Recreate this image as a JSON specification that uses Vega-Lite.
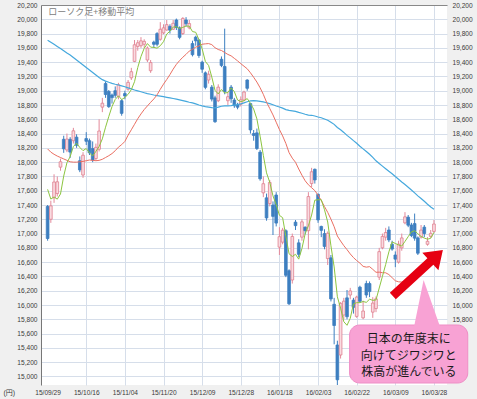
{
  "$schema": "https://vega.github.io/schema/vega-lite/v6.json",
  "width": 406,
  "height": 380,
  "autosize": {"type": "none"},
  "padding": {"left": 41, "top": 5, "right": 30, "bottom": 14},
  "background": "#f0f0f0",
  "config": {
    "view": {"fill": "#ffffff", "stroke": null},
    "axis": {"labelFont": "Liberation Sans", "labelFontSize": 6.6, "labelColor": "#3a3a3a", "ticks": false, "domain": false, "gridColor": "#d6deea", "gridWidth": 1}
  },
  "data": {"values": [
    {"d":"15/09/29","i":0,"o":17380,"h":17400,"l":16900,"c":16931,"m5":17619,"m25":18185,"m75":19708},
    {"d":"15/09/30","i":1,"o":17200,"h":17460,"l":17150,"c":17388,"m5":17483,"m25":18140,"m75":19680},
    {"d":"15/10/01","i":2,"o":17500,"h":17830,"l":17430,"c":17722,"m5":17513,"m25":18110,"m75":19650},
    {"d":"15/10/02","i":3,"o":17560,"h":17800,"l":17520,"c":17725,"m5":17482,"m25":18085,"m75":19620},
    {"d":"15/10/05","i":4,"o":17930,"h":18050,"l":17880,"c":18005,"m5":17554,"m25":18065,"m75":19590},
    {"d":"15/10/06","i":5,"o":18320,"h":18370,"l":18130,"c":18186,"m5":17805,"m25":18045,"m75":19560},
    {"d":"15/10/07","i":6,"o":18170,"h":18400,"l":18140,"c":18323,"m5":17992,"m25":18025,"m75":19528},
    {"d":"15/10/08","i":7,"o":18320,"h":18350,"l":18060,"c":18141,"m5":18076,"m25":18005,"m75":19500},
    {"d":"15/10/09","i":8,"o":18300,"h":18480,"l":18260,"c":18439,"m5":18219,"m25":18000,"m75":19465},
    {"d":"15/10/13","i":9,"o":18350,"h":18390,"l":18200,"c":18235,"m5":18265,"m25":18000,"m75":19430},
    {"d":"15/10/14","i":10,"o":18020,"h":18080,"l":17860,"c":17891,"m5":18206,"m25":18005,"m75":19395},
    {"d":"15/10/15","i":11,"o":17820,"h":18140,"l":17780,"c":18097,"m5":18161,"m25":18010,"m75":19360},
    {"d":"15/10/16","i":12,"o":18330,"h":18420,"l":18240,"c":18292,"m5":18191,"m25":18020,"m75":19325},
    {"d":"15/10/19","i":13,"o":18300,"h":18330,"l":18100,"c":18131,"m5":18129,"m25":18030,"m75":19290},
    {"d":"15/10/20","i":14,"o":18190,"h":18290,"l":18000,"c":18030,"m5":18088,"m25":18025,"m75":19255},
    {"d":"15/10/21","i":15,"o":18050,"h":18260,"l":18020,"c":18207,"m5":18151,"m25":18020,"m75":19220},
    {"d":"15/10/22","i":16,"o":18180,"h":18600,"l":18150,"c":18436,"m5":18219,"m25":18025,"m75":19185},
    {"d":"15/10/23","i":17,"o":18770,"h":18900,"l":18700,"c":18825,"m5":18326,"m25":18040,"m75":19155},
    {"d":"15/10/26","i":18,"o":19100,"h":19130,"l":18900,"c":18947,"m5":18489,"m25":18065,"m75":19135},
    {"d":"15/10/27","i":19,"o":18990,"h":19010,"l":18760,"c":18777,"m5":18638,"m25":18090,"m75":19118},
    {"d":"15/10/28","i":20,"o":18940,"h":18960,"l":18820,"c":18903,"m5":18778,"m25":18120,"m75":19103},
    {"d":"15/10/29","i":21,"o":19000,"h":19060,"l":18900,"c":18936,"m5":18878,"m25":18160,"m75":19090},
    {"d":"15/10/30","i":22,"o":18920,"h":19110,"l":18880,"c":19083,"m5":18929,"m25":18210,"m75":19080},
    {"d":"15/11/02","i":23,"o":18860,"h":18880,"l":18650,"c":18683,"m5":18876,"m25":18245,"m75":19068},
    {"d":"15/11/04","i":24,"o":18960,"h":19000,"l":18880,"c":18927,"m5":18906,"m25":18290,"m75":19055},
    {"d":"15/11/05","i":25,"o":19020,"h":19150,"l":19000,"c":19117,"m5":18949,"m25":18378,"m75":19040},
    {"d":"15/11/06","i":26,"o":19180,"h":19320,"l":19150,"c":19266,"m5":19015,"m25":18453,"m75":19025},
    {"d":"15/11/09","i":27,"o":19410,"h":19710,"l":19400,"c":19643,"m5":19127,"m25":18530,"m75":19010},
    {"d":"15/11/10","i":28,"o":19620,"h":19710,"l":19560,"c":19671,"m5":19325,"m25":18608,"m75":18998},
    {"d":"15/11/11","i":29,"o":19630,"h":19750,"l":19600,"c":19698,"m5":19479,"m25":18675,"m75":18985},
    {"d":"15/11/12","i":30,"o":19650,"h":19720,"l":19600,"c":19691,"m5":19594,"m25":18736,"m75":18972},
    {"d":"15/11/13","i":31,"o":19430,"h":19620,"l":19400,"c":19597,"m5":19660,"m25":18787,"m75":18960},
    {"d":"15/11/16","i":32,"o":19280,"h":19430,"l":19250,"c":19394,"m5":19610,"m25":18837,"m75":18950},
    {"d":"15/11/17","i":33,"o":19680,"h":19700,"l":19600,"c":19650,"m5":19606,"m25":18885,"m75":18940},
    {"d":"15/11/18","i":34,"o":19800,"h":19820,"l":19620,"c":19650,"m5":19596,"m25":18942,"m75":18932},
    {"d":"15/11/19","i":35,"o":19720,"h":19960,"l":19700,"c":19860,"m5":19630,"m25":19020,"m75":18924},
    {"d":"15/11/20","i":36,"o":19810,"h":19930,"l":19790,"c":19880,"m5":19687,"m25":19092,"m75":18916},
    {"d":"15/11/24","i":37,"o":19850,"h":19990,"l":19840,"c":19925,"m5":19793,"m25":19157,"m75":18908},
    {"d":"15/11/25","i":38,"o":19900,"h":19930,"l":19800,"c":19848,"m5":19833,"m25":19226,"m75":18900},
    {"d":"15/11/26","i":39,"o":19860,"h":19990,"l":19850,"c":19944,"m5":19891,"m25":19302,"m75":18891},
    {"d":"15/11/27","i":40,"o":19990,"h":20010,"l":19850,"c":19884,"m5":19896,"m25":19369,"m75":18882},
    {"d":"15/11/30","i":41,"o":19880,"h":19900,"l":19720,"c":19747,"m5":19870,"m25":19422,"m75":18872},
    {"d":"15/12/01","i":42,"o":19800,"h":20030,"l":19780,"c":20012,"m5":19887,"m25":19469,"m75":18862},
    {"d":"15/12/02","i":43,"o":19990,"h":20030,"l":19900,"c":19938,"m5":19905,"m25":19509,"m75":18850},
    {"d":"15/12/03","i":44,"o":19880,"h":19990,"l":19860,"c":19940,"m5":19904,"m25":19555,"m75":18838},
    {"d":"15/12/04","i":45,"o":19660,"h":19700,"l":19480,"c":19504,"m5":19828,"m25":19580,"m75":18830},
    {"d":"15/12/07","i":46,"o":19750,"h":19770,"l":19630,"c":19698,"m5":19818,"m25":19610,"m75":18815},
    {"d":"15/12/08","i":47,"o":19710,"h":19720,"l":19460,"c":19493,"m5":19715,"m25":19626,"m75":18800},
    {"d":"15/12/09","i":48,"o":19400,"h":19420,"l":19250,"c":19301,"m5":19587,"m25":19651,"m75":18788},
    {"d":"15/12/10","i":49,"o":19250,"h":19270,"l":19020,"c":19047,"m5":19409,"m25":19656,"m75":18778},
    {"d":"15/12/11","i":50,"o":19150,"h":19280,"l":19100,"c":19230,"m5":19354,"m25":19660,"m75":18770},
    {"d":"15/12/14","i":51,"o":19050,"h":19080,"l":18850,"c":18883,"m5":19191,"m25":19645,"m75":18763},
    {"d":"15/12/15","i":52,"o":18900,"h":18930,"l":18550,"c":18566,"m5":19005,"m25":19602,"m75":18760},
    {"d":"15/12/16","i":53,"o":18860,"h":19090,"l":18840,"c":19050,"m5":18955,"m25":19577,"m75":18770},
    {"d":"15/12/17","i":54,"o":19440,"h":19480,"l":19330,"c":19354,"m5":19017,"m25":19563,"m75":18783},
    {"d":"15/12/18","i":55,"o":19340,"h":19869,"l":18950,"c":18987,"m5":18968,"m25":19535,"m75":18789},
    {"d":"15/12/21","i":56,"o":18860,"h":18980,"l":18800,"c":18916,"m5":18975,"m25":19508,"m75":18788},
    {"d":"15/12/22","i":57,"o":19050,"h":19080,"l":18830,"c":18887,"m5":19039,"m25":19488,"m75":18790},
    {"d":"15/12/24","i":58,"o":18870,"h":18900,"l":18760,"c":18790,"m5":18987,"m25":19453,"m75":18797},
    {"d":"15/12/25","i":59,"o":18800,"h":18830,"l":18740,"c":18769,"m5":18870,"m25":19418,"m75":18805},
    {"d":"15/12/28","i":60,"o":18810,"h":18920,"l":18780,"c":18873,"m5":18847,"m25":19379,"m75":18815},
    {"d":"15/12/29","i":61,"o":18870,"h":19000,"l":18850,"c":18982,"m5":18860,"m25":19343,"m75":18830},
    {"d":"15/12/30","i":62,"o":19150,"h":19160,"l":19000,"c":19034,"m5":18890,"m25":19307,"m75":18845},
    {"d":"16/01/04","i":63,"o":18820,"h":18830,"l":18400,"c":18451,"m5":18822,"m25":19251,"m75":18858},
    {"d":"16/01/05","i":64,"o":18400,"h":18450,"l":18300,"c":18374,"m5":18743,"m25":19188,"m75":18860},
    {"d":"16/01/06","i":65,"o":18410,"h":18470,"l":18170,"c":18191,"m5":18606,"m25":19121,"m75":18857},
    {"d":"16/01/07","i":66,"o":18140,"h":18170,"l":17740,"c":17767,"m5":18363,"m25":19041,"m75":18850},
    {"d":"16/01/08","i":67,"o":17570,"h":17800,"l":17510,"c":17698,"m5":18096,"m25":18949,"m75":18843},
    {"d":"16/01/12","i":68,"o":17500,"h":17560,"l":17180,"c":17219,"m5":17850,"m25":18840,"m75":18832},
    {"d":"16/01/13","i":69,"o":17420,"h":17750,"l":17380,"c":17716,"m5":17718,"m25":18751,"m75":18820},
    {"d":"16/01/14","i":70,"o":17400,"h":17450,"l":16980,"c":17241,"m5":17528,"m25":18661,"m75":18803},
    {"d":"16/01/15","i":71,"o":17540,"h":17580,"l":17100,"c":17147,"m5":17404,"m25":18559,"m75":18786},
    {"d":"16/01/18","i":72,"o":16810,"h":17090,"l":16700,"c":16956,"m5":17256,"m25":18457,"m75":18772},
    {"d":"16/01/19","i":73,"o":16880,"h":17080,"l":16850,"c":17048,"m5":17222,"m25":18367,"m75":18756},
    {"d":"16/01/20","i":74,"o":17040,"h":17060,"l":16390,"c":16416,"m5":16962,"m25":18262,"m75":18736},
    {"d":"16/01/21","i":75,"o":16480,"h":16500,"l":16000,"c":16017,"m5":16717,"m25":18133,"m75":18724},
    {"d":"16/01/22","i":76,"o":16350,"h":17000,"l":16300,"c":16959,"m5":16679,"m25":18056,"m75":18718},
    {"d":"16/01/25","i":77,"o":17160,"h":17190,"l":17050,"c":17111,"m5":16710,"m25":17998,"m75":18710},
    {"d":"16/01/26","i":78,"o":16870,"h":16920,"l":16670,"c":16709,"m5":16642,"m25":17904,"m75":18696},
    {"d":"16/01/27","i":79,"o":16950,"h":17200,"l":16900,"c":17164,"m5":16792,"m25":17817,"m75":18685},
    {"d":"16/01/28","i":80,"o":17090,"h":17100,"l":16990,"c":17041,"m5":16997,"m25":17739,"m75":18670},
    {"d":"16/01/29","i":81,"o":17040,"h":17580,"l":16780,"c":17518,"m5":17109,"m25":17683,"m75":18659},
    {"d":"16/02/01","i":82,"o":17700,"h":17920,"l":17650,"c":17865,"m5":17259,"m25":17642,"m75":18656},
    {"d":"16/02/02","i":83,"o":17900,"h":17910,"l":17700,"c":17751,"m5":17468,"m25":17601,"m75":18646},
    {"d":"16/02/03","i":84,"o":17550,"h":17560,"l":17150,"c":17191,"m5":17473,"m25":17538,"m75":18632},
    {"d":"16/02/04","i":85,"o":17100,"h":17110,"l":16950,"c":17045,"m5":17474,"m25":17464,"m75":18621},
    {"d":"16/02/05","i":86,"o":17000,"h":17060,"l":16780,"c":16820,"m5":17334,"m25":17378,"m75":18604},
    {"d":"16/02/08","i":87,"o":16650,"h":17030,"l":16560,"c":17004,"m5":17162,"m25":17297,"m75":18587},
    {"d":"16/02/09","i":88,"o":16660,"h":16700,"l":16050,"c":16085,"m5":16829,"m25":17202,"m75":18560},
    {"d":"16/02/10","i":89,"o":16010,"h":16100,"l":15450,"c":15713,"m5":16533,"m25":17096,"m75":18529},
    {"d":"16/02/12","i":90,"o":15440,"h":15500,"l":14880,"c":14953,"m5":16115,"m25":16966,"m75":18485},
    {"d":"16/02/15","i":91,"o":15300,"h":16040,"l":15250,"c":16023,"m5":15956,"m25":16896,"m75":18453},
    {"d":"16/02/16","i":92,"o":15860,"h":16100,"l":15800,"c":16054,"m5":15766,"m25":16831,"m75":18416},
    {"d":"16/02/17","i":93,"o":16100,"h":16210,"l":15800,"c":15836,"m5":15716,"m25":16775,"m75":18375},
    {"d":"16/02/18","i":94,"o":16140,"h":16240,"l":16080,"c":16197,"m5":15813,"m25":16715,"m75":18340},
    {"d":"16/02/19","i":95,"o":16068,"h":16100,"l":15880,"c":15967,"m5":16015,"m25":16664,"m75":18301},
    {"d":"16/02/22","i":96,"o":15840,"h":16130,"l":15820,"c":16111,"m5":16033,"m25":16622,"m75":18264},
    {"d":"16/02/23","i":97,"o":16250,"h":16270,"l":16030,"c":16052,"m5":16033,"m25":16586,"m75":18223},
    {"d":"16/02/24","i":98,"o":15820,"h":16060,"l":15800,"c":15916,"m5":16049,"m25":16541,"m75":18186},
    {"d":"16/02/25","i":99,"o":16300,"h":16340,"l":16100,"c":16140,"m5":16037,"m25":16530,"m75":18149},
    {"d":"16/02/26","i":100,"o":16300,"h":16330,"l":16110,"c":16188,"m5":16081,"m25":16537,"m75":18110},
    {"d":"16/02/29","i":101,"o":15900,"h":16110,"l":15820,"c":16027,"m5":16065,"m25":16499,"m75":18067},
    {"d":"16/03/01","i":102,"o":15950,"h":16120,"l":15900,"c":16086,"m5":16071,"m25":16458,"m75":18019},
    {"d":"16/03/02","i":103,"o":16390,"h":16800,"l":16350,"c":16747,"m5":16238,"m25":16460,"m75":17980},
    {"d":"16/03/03","i":104,"o":16800,"h":17000,"l":16780,"c":16960,"m5":16402,"m25":16452,"m75":17944},
    {"d":"16/03/04","i":105,"o":16950,"h":17080,"l":16900,"c":17015,"m5":16567,"m25":16451,"m75":17908},
    {"d":"16/03/07","i":106,"o":17050,"h":17100,"l":16880,"c":16911,"m5":16744,"m25":16426,"m75":17872},
    {"d":"16/03/08","i":107,"o":16850,"h":16900,"l":16760,"c":16783,"m5":16883,"m25":16383,"m75":17838},
    {"d":"16/03/09","i":108,"o":16700,"h":16750,"l":16530,"c":16642,"m5":16862,"m25":16339,"m75":17798},
    {"d":"16/03/10","i":109,"o":16600,"h":16900,"l":16580,"c":16852,"m5":16841,"m25":16325,"m75":17760},
    {"d":"16/03/11","i":110,"o":16800,"h":17000,"l":16760,"c":16939,"m5":16825,"m25":16321,"m75":17721},
    {"d":"16/03/14","i":111,"o":17150,"h":17300,"l":17130,"c":17234,"m5":16890,"m25":16337,"m75":17686},
    {"d":"16/03/15","i":112,"o":17230,"h":17260,"l":17090,"c":17117,"m5":16957,"m25":16342,"m75":17649},
    {"d":"16/03/16","i":113,"o":17120,"h":17150,"l":16950,"c":16974,"m5":17023,"m25":16377,"m75":17610},
    {"d":"16/03/17","i":114,"o":17140,"h":17280,"l":16900,"c":16936,"m5":17040,"m25":16426,"m75":17570},
    {"d":"16/03/18","i":115,"o":16940,"h":16960,"l":16700,"c":16725,"m5":16997,"m25":16497,"m75":17528},
    {"d":"16/03/22","i":116,"o":16950,"h":17120,"l":16930,"c":17049,"m5":16960,"m25":16538,"m75":17492},
    {"d":"16/03/23","i":117,"o":17090,"h":17120,"l":16950,"c":17001,"m5":16937,"m25":16576,"m75":17452},
    {"d":"16/03/24","i":118,"o":16850,"h":16950,"l":16830,"c":16892,"m5":16921,"m25":16618,"m75":17411},
    {"d":"16/03/25","i":119,"o":16960,"h":17050,"l":16940,"c":17003,"m5":16934,"m25":16651,"m75":17372},
    {"d":"16/03/28","i":120,"o":17030,"h":17190,"l":17010,"c":17134,"m5":17016,"m25":16697,"m75":17341}
  ]},
  "layer": [
    {
      "mark": {"type": "rule", "strokeWidth": 1},
      "encoding": {
        "x": {"field": "i", "type": "quantitative",
          "scale": {"domain": [-0.5, 122.5], "nice": false, "zero": false},
          "axis": {"values": [0,12,24,36,48,60,72,84,96,108,120],
            "labelExpr": "['15/09/29','15/10/16','15/11/04','15/11/20','15/12/09','15/12/28','16/01/18','16/02/03','16/02/22','16/03/09','16/03/28'][round(datum.value/12)]",
            "grid": true,
            "gridColor": {"condition": {"test": "datum.value == 0", "value": "rgba(0,0,0,0)"}, "value": "#d6deea"},
            "labelPadding": 4, "labelFlush": false, "labelOverlap": false, "title": null}},
        "y": {"field": "l", "type": "quantitative",
          "scale": {"domain": [14880, 20200], "nice": false, "zero": false},
          "axis": {"values": [15000,15200,15400,15600,15800,16000,16200,16400,16600,16800,17000,17200,17400,17600,17800,18000,18200,18400,18600,18800,19000,19200,19400,19600,19800,20000,20200],
            "format": ",.0f", "grid": true, "domain": true, "domainColor": "#777777",
            "labelPadding": 4, "labelOverlap": false,
            "title": "(円)", "titleAngle": 0, "titleX": -38, "titleY": 387, "titleAlign": "left", "titleBaseline": "middle",
            "titleFont": "Liberation Sans, Noto Sans CJK JP", "titleFontSize": 7, "titleFontWeight": "normal", "titleColor": "#3a3a3a"}},
        "y2": {"field": "h"},
        "color": {"condition": {"test": "datum.c >= datum.o", "value": "#e3899a"}, "value": "#3d7fc0"}
      }
    },
    {
      "mark": {"type": "bar", "width": 2.7, "strokeWidth": 0.8},
      "encoding": {
        "x": {"field": "i", "type": "quantitative", "axis": null},
        "y": {"field": "o", "type": "quantitative", "axis": null},
        "y2": {"field": "c"},
        "fill": {"condition": {"test": "datum.c >= datum.o", "value": "#f9dbe1"}, "value": "#3d7fc0"},
        "stroke": {"condition": {"test": "datum.c >= datum.o", "value": "#e0808f"}, "value": "#3d7fc0"}
      }
    },
    {
      "mark": {"type": "line", "color": "#45a8dd", "strokeWidth": 1.2},
      "encoding": {
        "x": {"field": "i", "type": "quantitative",
          "axis": {"orient": "top", "labels": false, "ticks": false, "grid": false, "domain": true, "domainColor": "#888888", "title": null}},
        "y": {"field": "m75", "type": "quantitative",
          "axis": {"orient": "right", "values": [15800,16000,16200,16400,16600,16800,17000,17200,17400,17600,17800,18000,18200,18400,18600,18800,19000,19200,19400,19600,19800,20000,20200],
            "format": ",.0f", "grid": false, "domain": false, "labelPadding": 5, "labelOverlap": false, "title": null}}
      }
    },
    {
      "mark": {"type": "line", "color": "#ea6f62", "strokeWidth": 1},
      "encoding": {
        "x": {"field": "i", "type": "quantitative", "axis": null},
        "y": {"field": "m25", "type": "quantitative", "axis": null}
      }
    },
    {
      "mark": {"type": "line", "color": "#8cc540", "strokeWidth": 1},
      "encoding": {
        "x": {"field": "i", "type": "quantitative", "axis": null},
        "y": {"field": "m5", "type": "quantitative", "axis": null}
      }
    },
    {
      "data": {"values": [{"t": "ローソク足+移動平均"}]},
      "mark": {"type": "text", "align": "left", "baseline": "middle", "font": "Noto Sans CJK JP", "fontSize": 9, "color": "#808080"},
      "encoding": {
        "x": {"datum": 0.2, "axis": null},
        "y": {"datum": 20106, "axis": null},
        "text": {"field": "t"}
      }
    },
    {
      "data": {"values": [{"t": "box"}]},
      "mark": {"type": "rect", "cornerRadius": 10, "fill": "#f8a2d4", "stroke": "#ef8ec6", "strokeWidth": 1},
      "encoding": {
        "x": {"datum": 93.8, "axis": null},
        "x2": {"datum": 130.5},
        "y": {"datum": 15720, "axis": null},
        "y2": {"datum": 14908}
      }
    },
    {
      "data": {"values": [{"t": "pointer"}]},
      "mark": {"type": "point", "shape": "M-0.16,-1L-0.6,1.15L0.6,1.15Z", "size": 2025, "filled": true, "fill": "#f8a2d4", "opacity": 1, "strokeWidth": 0},
      "encoding": {
        "x": {"datum": 117.9, "axis": null},
        "y": {"datum": 16035, "axis": null}
      }
    },
    {
      "data": {"values": [{"t": ["日本の年度末に", "向けてジワジワと", "株高が進んでいる"]}]},
      "mark": {"type": "text", "align": "center", "baseline": "top", "font": "Noto Sans CJK JP", "fontSize": 12, "lineHeight": 16.5, "color": "#1a1a1a"},
      "encoding": {
        "x": {"datum": 112.2, "axis": null},
        "y": {"datum": 15594, "axis": null},
        "text": {"field": "t"}
      }
    },
    {
      "data": {"values": [{"t": "arrow"}]},
      "mark": {"type": "point", "shape": "M-1,-0.13L0.5,-0.13L0.5,-0.35L1,0L0.5,0.35L0.5,0.13L-1,0.13Z", "size": 4624, "angle": -42.6, "filled": true, "fill": "#e60012", "opacity": 1, "strokeWidth": 0},
      "encoding": {
        "x": {"datum": 115.0, "axis": null},
        "y": {"datum": 16448, "axis": null}
      }
    }
  ],
  "resolve": {"axis": {"x": "independent", "y": "independent"}}
}
